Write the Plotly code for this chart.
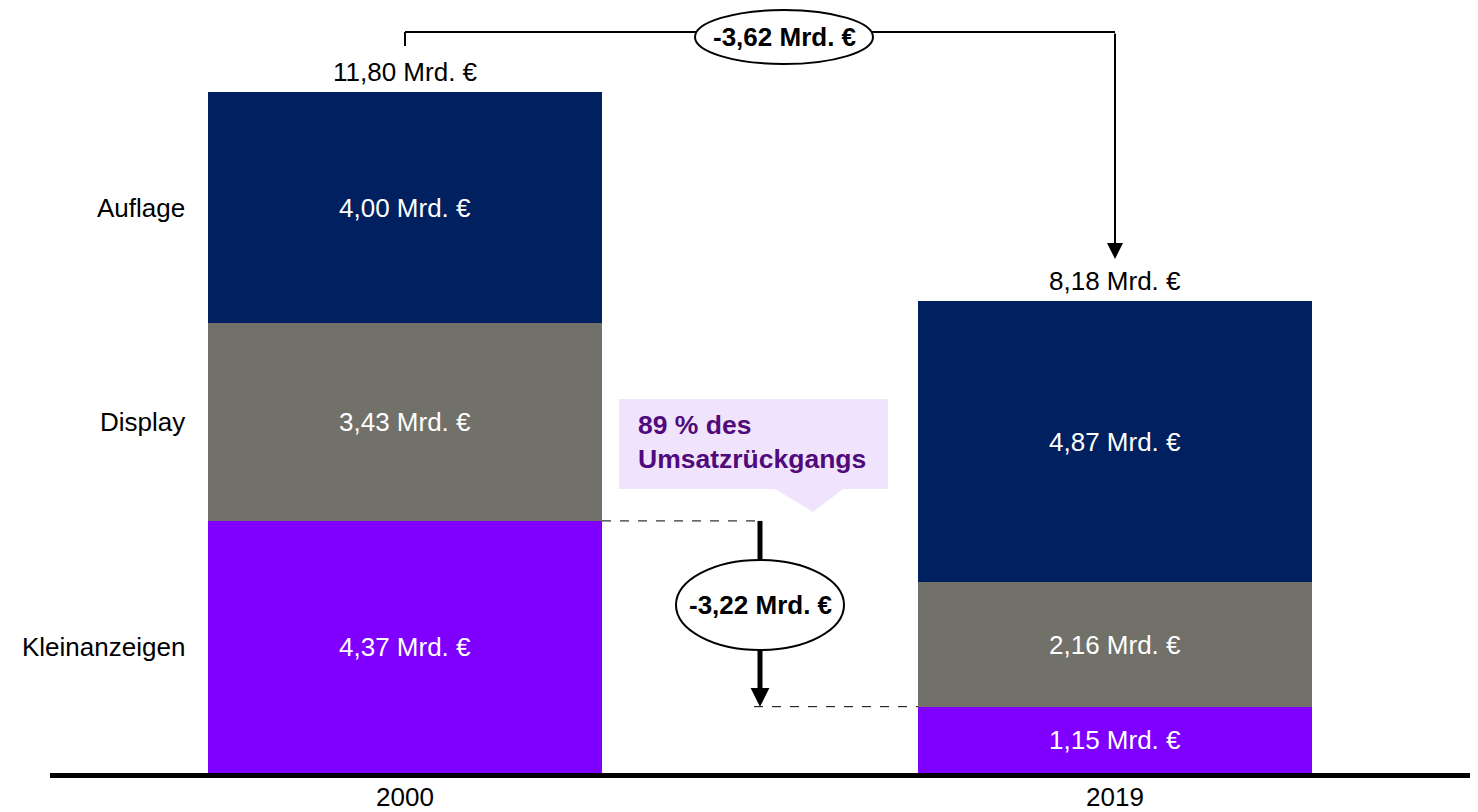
import plotly.graph_objects as go

# ---- data ----
years = ["2000", "2019"]
segments = ["Kleinanzeigen", "Display", "Auflage"]
kleinanzeigen = [4.37, 1.15]
display = [3.43, 2.16]
auflage = [4.00, 4.87]
colors = {"Kleinanzeigen": "#7F00FF", "Display": "#71716A", "Auflage": "#002060"}
callout_text = "89 % des<br>Umsatzrückgangs"

series = {"Kleinanzeigen": kleinanzeigen, "Display": display, "Auflage": auflage}
totals = [round(sum(series[s][i] for s in segments), 2) for i in range(len(years))]

def fmt(v):
    return f"{v:.2f}".replace(".", ",") + " Mrd. €"

# ---- layout geometry ----
W, H = 1478, 812
ML, MR, MT, MB = 50, 8, 0, 39
PLOT_H = H - MT - MB
PLOT_W = W - ML - MR
YMAX = 13.4
XMIN, XMAX = -0.5, 1.5
FONT = "Liberation Sans, Arial, sans-serif"
FS = 26

def yv(px):  # pixel row -> data value
    return (H - MB - px) / PLOT_H * YMAX

def xv(px):  # pixel col -> data x
    return XMIN + (px - ML) / PLOT_W * (XMAX - XMIN)

xs = list(range(len(years)))
BW = 0.555

fig = go.Figure()
for s in segments:
    fig.add_trace(go.Bar(
        x=xs, y=series[s], width=BW, name=s,
        marker=dict(color=colors[s], line=dict(width=0)),
        text=[fmt(v) for v in series[s]], textposition="inside",
        insidetextanchor="middle", textangle=0, constraintext="none",
        textfont=dict(family=FONT, size=FS, color="white"),
        showlegend=False, hoverinfo="skip",
    ))

annotations = []
shapes = []

# segment labels on the left
cum = 0
for s in segments:
    v = series[s][0]
    annotations.append(dict(x=xv(187), y=cum + v / 2, xref="x", yref="y", text=s,
                            showarrow=False, xanchor="right", yanchor="middle",
                            font=dict(family=FONT, size=FS, color="black")))
    cum += v

# totals above bars
for i, t in enumerate(totals):
    annotations.append(dict(x=xs[i], y=t, xref="x", yref="y", text=fmt(t),
                            showarrow=False, xanchor="center", yanchor="bottom", yshift=3,
                            font=dict(family=FONT, size=FS, color="black")))

# year labels
for i, yr in enumerate(years):
    annotations.append(dict(x=xs[i], y=0, xref="x", yref="paper", text=yr,
                            showarrow=False, xanchor="center", yanchor="top", yshift=-7,
                            font=dict(family=FONT, size=FS, color="black")))

# ---- top bracket: total change ----
diff_total = round(totals[1] - totals[0], 2)
y_br = yv(32)
shapes.append(dict(type="line", xref="x", yref="y", x0=xs[0], x1=xs[0], y0=yv(46), y1=y_br,
                   line=dict(color="black", width=2)))
shapes.append(dict(type="line", xref="x", yref="y", x0=xs[0], x1=xs[1], y0=y_br, y1=y_br,
                   line=dict(color="black", width=2)))
annotations.append(dict(x=xs[1], y=yv(259), ax=xs[1], ay=y_br, xref="x", yref="y",
                        axref="x", ayref="y", text="", showarrow=True,
                        arrowhead=2, arrowwidth=2, arrowsize=1.6, arrowcolor="black"))
shapes.append(dict(type="circle", xref="x", yref="y", x0=xv(695), x1=xv(873),
                   y0=yv(64), y1=yv(10), fillcolor="white", line=dict(color="black", width=2)))
annotations.append(dict(x=xv(784), y=yv(37), xref="x", yref="y",
                        text="<b>" + f"{diff_total:.2f}".replace(".", ",") + " Mrd. €</b>",
                        showarrow=False, xanchor="center", yanchor="middle",
                        font=dict(family=FONT, size=FS, color="black")))

# ---- Kleinanzeigen change ----
k0, k1 = kleinanzeigen
diff_k = round(k1 - k0, 2)
xm = (xs[0] + xs[1]) / 2
shapes.append(dict(type="line", xref="x", yref="y", x0=xs[0] + BW / 2, x1=xm, y0=k0, y1=k0,
                   line=dict(color="black", width=1, dash="dash")))
shapes.append(dict(type="line", xref="x", yref="y", x0=xv(754), x1=xs[1] - BW / 2, y0=k1, y1=k1,
                   line=dict(color="black", width=1, dash="dash")))
shapes.append(dict(type="line", xref="x", yref="y", x0=xm, x1=xm, y0=k0, y1=yv(562),
                   line=dict(color="black", width=5)))
annotations.append(dict(x=xm, y=k1, ax=xm, ay=yv(648), xref="x", yref="y",
                        axref="x", ayref="y", text="", showarrow=True,
                        arrowhead=2, arrowwidth=5, arrowsize=0.75, arrowcolor="black"))
shapes.append(dict(type="circle", xref="x", yref="y", x0=xv(676), x1=xv(844),
                   y0=yv(650), y1=yv(560), fillcolor="white", line=dict(color="black", width=2)))
annotations.append(dict(x=xm, y=yv(605), xref="x", yref="y",
                        text="<b>" + f"{diff_k:.2f}".replace(".", ",") + " Mrd. €</b>",
                        showarrow=False, xanchor="center", yanchor="middle",
                        font=dict(family=FONT, size=FS, color="black")))

# ---- callout ----
CALLOUT_BG = "#F0E4FC"
shapes.append(dict(type="rect", xref="x", yref="y", x0=xv(619), x1=xv(888),
                   y0=yv(489), y1=yv(399), fillcolor=CALLOUT_BG, line=dict(width=0)))
shapes.append(dict(type="path", xref="x", yref="y",
                   path=f"M {xv(775)},{yv(489)} L {xv(843)},{yv(489)} L {xv(813)},{yv(512)} Z",
                   fillcolor=CALLOUT_BG, line=dict(width=0)))
annotations.append(dict(x=xv(636), y=yv(442), xref="x", yref="y",
                        text="<b>" + callout_text.replace("<br>", "</b><br><b>") + "</b>",
                        showarrow=False, xanchor="left", yanchor="middle", align="left",
                        font=dict(family=FONT, size=26.5, color="#500A7C")))

fig.update_layout(
    width=W, height=H, barmode="stack", bargap=0,
    margin=dict(l=ML, r=MR, t=MT, b=MB, pad=0),
    paper_bgcolor="white", plot_bgcolor="white",
    xaxis=dict(range=[XMIN, XMAX], showgrid=False, zeroline=False, showticklabels=False,
               ticks="", showline=True, linecolor="black", linewidth=5, fixedrange=True),
    yaxis=dict(range=[0, YMAX], showgrid=False, zeroline=False, showticklabels=False,
               ticks="", showline=False, fixedrange=True),
    shapes=shapes, annotations=annotations,
)

fig.write_html("out.html", config={"displayModeBar": False})
